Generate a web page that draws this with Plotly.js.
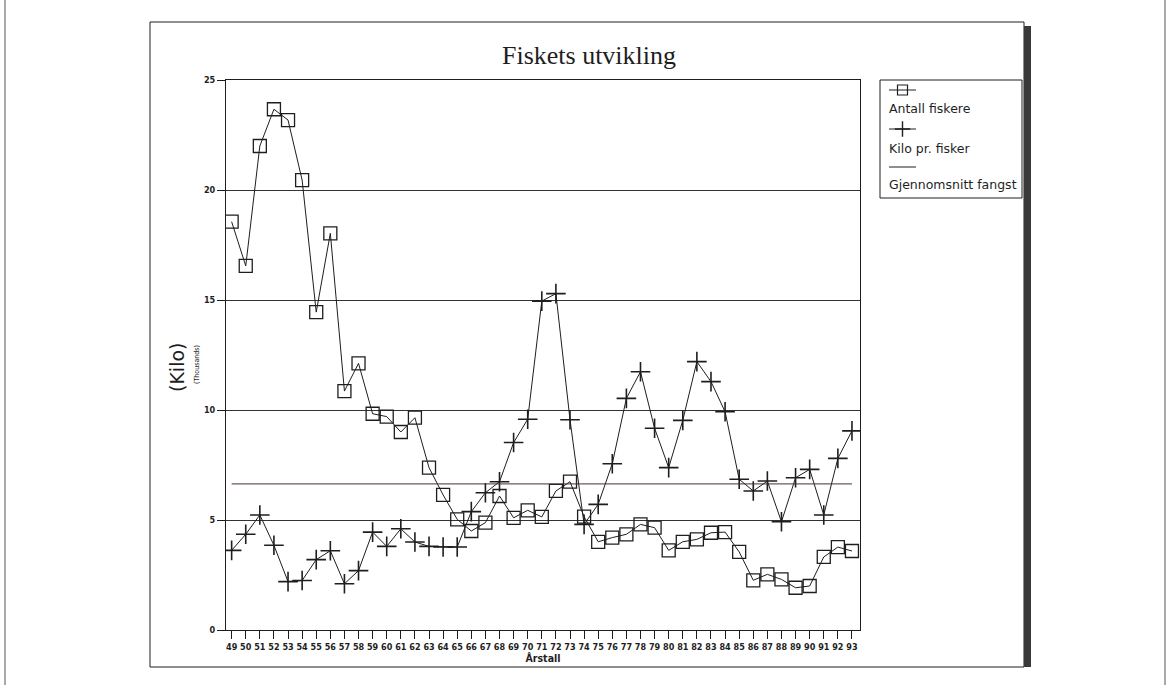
<!DOCTYPE html>
<html>
<head>
<meta charset="utf-8">
<script src="https://cdn.plot.ly/plotly-3.0.1.min.js"></script>
<style>
html,body{margin:0;padding:0;background:#fff;}
#chart{width:1170px;height:685px;}
</style>
</head>
<body>
<div id="chart"></div>
<script>
// ---- data (thousands) ----
var years = [49,50,51,52,53,54,55,56,57,58,59,60,61,62,63,64,65,66,67,68,69,70,71,72,73,74,75,76,77,78,79,80,81,82,83,84,85,86,87,88,89,90,91,92,93];
var yearLabels = years.map(function(y){return String(y);});
var antallFiskere = [18.56,16.55,22.0,23.67,23.18,20.45,14.45,18.03,10.86,12.12,9.83,9.7,9.0,9.65,7.38,6.14,5.03,4.5,4.88,6.09,5.1,5.44,5.14,6.32,6.74,5.15,4.01,4.2,4.35,4.8,4.65,3.62,4.01,4.12,4.42,4.45,3.55,2.26,2.53,2.3,1.92,2.0,3.32,3.77,3.59];
var kiloPrFisker = [3.62,4.35,5.23,3.85,2.2,2.25,3.2,3.6,2.1,2.7,4.45,3.8,4.6,4.0,3.8,3.77,3.77,5.38,6.24,6.74,8.52,9.58,14.95,15.29,9.56,4.8,5.71,7.56,10.53,11.74,9.17,7.38,9.53,12.2,11.29,9.92,6.85,6.32,6.77,4.92,6.92,7.3,5.23,7.8,9.05];
var avgYears = [49,93];
var avgFangst = [6.64,6.64];
var yTicks = [0,5,10,15,20,25];
var seriesNames = ["Antall fiskere","Kilo pr. fisker","Gjennomsnitt fangst"];

// ---- pixel helpers for layout ----
var W = 1170, H = 685;
function px(x){return x/W;}
function py(y){return 1 - y/H;}

var ink = '#1e1e1e';

var traces = [
  {x: years, y: antallFiskere, type:'scatter', mode:'lines+markers', name: seriesNames[0],
   line:{color:ink, width:1}, marker:{symbol:'square-open', size:13, color:ink, line:{width:1.3}},
   showlegend:false, xaxis:'x', yaxis:'y'},
  {x: years, y: kiloPrFisker, type:'scatter', mode:'lines+markers', name: seriesNames[1],
   line:{color:ink, width:1}, marker:{symbol:'cross-thin', size:14, color:ink, line:{width:1.6, color:ink}},
   showlegend:false, xaxis:'x', yaxis:'y'},
  {x: avgYears, y: avgFangst, type:'scatter', mode:'lines', name: seriesNames[2],
   line:{color:'#4a2c2c', width:1}, showlegend:false, xaxis:'x', yaxis:'y'},
  // legend samples (in legend pixel axes)
  {x:[889,916], y:[90,90], type:'scatter', mode:'lines', line:{color:ink,width:1}, showlegend:false, xaxis:'x2', yaxis:'y2', hoverinfo:'skip'},
  {x:[902.5], y:[90], type:'scatter', mode:'markers', marker:{symbol:'square-open', size:10, color:ink, line:{width:1.2}}, showlegend:false, xaxis:'x2', yaxis:'y2', hoverinfo:'skip'},
  {x:[889,916], y:[129,129], type:'scatter', mode:'lines', line:{color:ink,width:1}, showlegend:false, xaxis:'x2', yaxis:'y2', hoverinfo:'skip'},
  {x:[902.5], y:[129], type:'scatter', mode:'markers', marker:{symbol:'cross-thin', size:11, color:ink, line:{width:1.4,color:ink}}, showlegend:false, xaxis:'x2', yaxis:'y2', hoverinfo:'skip'},
  {x:[889,916], y:[167,167], type:'scatter', mode:'lines', line:{color:ink,width:1}, showlegend:false, xaxis:'x2', yaxis:'y2', hoverinfo:'skip'}
];

var legendFont = {family:'DejaVu Sans, Liberation Sans', size:12.5, color:ink};

var layout = {
  width: W, height: H,
  margin:{l:0,r:0,t:0,b:0,pad:0},
  paper_bgcolor:'#fff', plot_bgcolor:'#fff',
  showlegend:false,
  title:{text:'Fiskets utvikling', font:{family:'Liberation Serif, DejaVu Serif', size:26, color:ink},
         xref:'paper', yref:'paper', x:px(589), y:py(55), xanchor:'center', yanchor:'middle'},
  xaxis:{domain:[px(226), px(860)], range:[48.6, 93.57], tickvals: years, ticktext: yearLabels,
         ticks:'outside', ticklen:8, tickcolor:ink, tickwidth:1,
         showgrid:false, zeroline:false, showline:true, mirror:true, linecolor:ink, linewidth:1,
         tickfont:{family:'DejaVu Sans Condensed, DejaVu Sans', size:9, color:ink, weight:'bold'},
         title:{text:'Årstall', font:{family:'DejaVu Sans Condensed, DejaVu Sans', size:10.5, color:ink, weight:'bold'}, standoff:1},
         fixedrange:true},
  yaxis:{domain:[py(630), py(80)], range:[0,25], tickvals: yTicks, ticktext: yTicks.map(String),
         ticks:'outside', ticklen:8, tickcolor:ink, tickwidth:1,
         showgrid:true, gridcolor:'#333', gridwidth:1, zeroline:false,
         showline:true, mirror:true, linecolor:ink, linewidth:1,
         tickfont:{family:'DejaVu Sans Condensed, DejaVu Sans', size:9, color:ink, weight:'bold'},
         fixedrange:true},
  xaxis2:{domain:[px(880), px(1022)], range:[880,1022], visible:false, fixedrange:true},
  yaxis2:{domain:[py(198), py(80)], range:[198,80], visible:false, fixedrange:true},
  shapes:[
    // chart frame
    {type:'rect', xref:'paper', yref:'paper', x0:px(150), x1:px(1024), y0:py(667), y1:py(22), line:{color:ink, width:1}},
    // right shadow
    {type:'rect', xref:'paper', yref:'paper', x0:px(1024), x1:px(1031), y0:py(667), y1:py(26), fillcolor:'#3a3a3a', line:{width:0}},
    // legend box
    {type:'rect', xref:'paper', yref:'paper', x0:px(880), x1:px(1022), y0:py(198), y1:py(80), line:{color:ink, width:1}},
    // page borders
    {type:'line', xref:'paper', yref:'paper', x0:px(5), x1:px(5), y0:0, y1:1, line:{color:'#555', width:1}},
    {type:'line', xref:'paper', yref:'paper', x0:px(1165), x1:px(1165), y0:0, y1:1, line:{color:'#555', width:1}}
  ],
  annotations:[
    {text:'(Kilo)', xref:'paper', yref:'paper', x:px(177), y:py(368), showarrow:false, textangle:-90,
     font:{family:'DejaVu Sans, Liberation Sans', size:19, color:ink}, xanchor:'center', yanchor:'middle'},
    {text:'(Thousands)', xref:'paper', yref:'paper', x:px(197), y:py(365), showarrow:false, textangle:-90,
     font:{family:'DejaVu Sans Condensed, DejaVu Sans', size:7, color:ink}, xanchor:'center', yanchor:'middle'},
    {text:seriesNames[0], xref:'paper', yref:'paper', x:px(887), y:py(109), showarrow:false, xanchor:'left', yanchor:'middle', font:legendFont},
    {text:seriesNames[1], xref:'paper', yref:'paper', x:px(887), y:py(148), showarrow:false, xanchor:'left', yanchor:'middle', font:legendFont},
    {text:seriesNames[2], xref:'paper', yref:'paper', x:px(887), y:py(184), showarrow:false, xanchor:'left', yanchor:'middle', font:legendFont}
  ]
};

Plotly.newPlot('chart', traces, layout, {displayModeBar:false, staticPlot:true});
</script>
</body>
</html>
